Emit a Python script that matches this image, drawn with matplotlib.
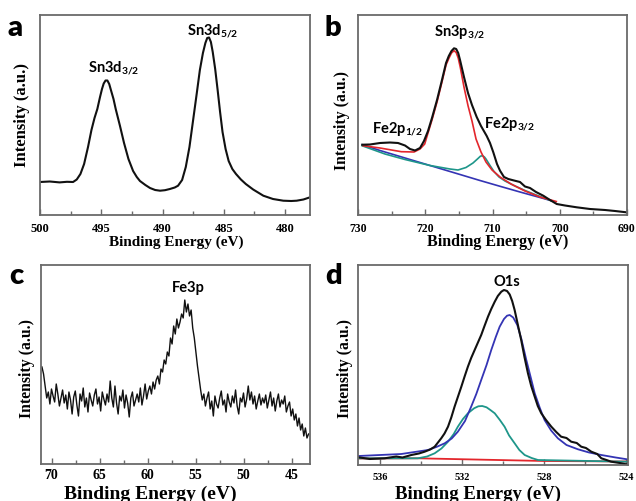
import numpy as np
import matplotlib
matplotlib.use('Agg')
import matplotlib.pyplot as plt
from matplotlib.ticker import MultipleLocator

W, H = 636, 502
plt.rcParams['font.family'] = ['Liberation Serif', 'DejaVu Serif']
plt.rcParams['font.weight'] = 'bold'
plt.rcParams['mathtext.fontset'] = 'custom'
plt.rcParams['mathtext.rm'] = 'Lato:bold'
plt.rcParams['mathtext.it'] = 'Lato:bold'
plt.rcParams['mathtext.bf'] = 'Lato:bold'

# ---------------- Panel a: Sn3d ----------------
a_energy = [500.0, 499.2, 498.4, 497.8, 497.3, 497.0, 496.7, 496.4, 496.08, 495.8,
            495.55, 495.32, 495.1, 494.94, 494.8, 494.65, 494.5, 494.35, 494.2, 494.0,
            493.82, 493.47, 493.14, 492.78, 492.4, 492.1, 491.84, 491.4, 491.02, 490.6,
            490.2, 489.8, 489.4, 489.0, 488.73, 488.4, 488.1, 487.8, 487.5, 487.2,
            486.95, 486.7, 486.5, 486.35, 486.2, 486.05, 485.9, 485.7, 485.5, 485.3,
            485.1, 484.85, 484.6, 484.3, 484.0, 483.6, 483.2, 482.6, 481.77, 480.98,
            480.14, 479.5, 479.05, 478.5, 477.96]
a_int = [33.0, 33.5, 32.6, 33.2, 33.0, 35.5, 41, 51, 68, 85,
         97, 106, 118, 126, 131.5, 134.5, 134.5, 131, 124.5, 116,
         106, 89, 72, 56, 44, 38, 34, 30, 27, 25,
         24.3, 24.8, 26, 27.5, 29.3, 35, 48, 68, 95, 122,
         145, 162, 172, 177, 177.5, 173, 163, 146, 125, 103,
         83, 66, 54, 46, 41, 35.5, 31, 25.5, 19.3, 16,
         14.3, 14.0, 14.3, 15.5, 17.7]

# ---------------- Panel b: Sn3p / Fe2p ----------------
b_energy = [729.36, 728.22, 726.73, 725.24, 724.05, 723.01, 722.27, 721.52, 720.78, 720.19,
            719.59, 719.00, 718.25, 717.55, 716.91, 716.5, 716.1, 715.72, 715.4, 715.1,
            714.83, 714.24, 713.64, 713.05, 712.35, 711.71, 710.86, 710.37, 709.88, 709.33,
            708.88, 708.29, 707.65, 706.80, 705.91, 705.17, 704.42, 703.53, 702.45, 701.45,
            700.45, 699.22, 697.48, 695.50, 693.27, 691.78, 690.10]
b_int = [70.3, 70.5, 72, 72.5, 72, 69.5, 66, 64.5, 67, 74,
         84, 97, 115, 134, 152, 159, 164, 166.7, 166, 162,
         155, 138, 122, 110, 98, 89, 79, 72, 62.7, 51,
         44.3, 38, 36, 34.5, 33, 28.5, 27, 23, 19.3, 15,
         11, 9.5, 7.7, 6, 5, 4, 2.7]

b_env_energy = [729.26, 726.73, 723.56, 721.67, 720.78, 720.08, 719.59, 719.00, 718.25, 717.55,
                716.91, 716.5, 716.1, 715.72, 715.4, 715.1, 714.8, 714.24, 713.64, 713.05,
                712.45, 711.71, 710.97, 710.07, 708.88, 707.25, 705.17, 702.94, 700.51]
b_env_int = [69.3, 67, 63.3, 63, 66, 71, 82, 95, 113, 132,
             150, 156.5, 162, 164.3, 162.5, 157, 148, 128, 109.3, 94,
             76, 63, 53, 45, 38, 31, 24, 18, 13.5]

b_bg_energy = [729.36, 726.73, 723.75, 720.78, 717.81, 714.83, 711.86, 708.88, 705.91, 702.94, 701.26]
b_bg_int = [70.3, 64.5, 58.5, 52.5, 46.5, 40.5, 34.5, 28.7, 23, 17.5, 14.3]

b_fe_energy = [729.41, 725.99, 723.01, 719.29, 716.32, 715.13, 713.94, 712.90, 712.16, 711.8,
               711.49, 711.2, 710.97, 710.37, 709.78, 709.03, 708.14, 706.65, 705.17, 703.38,
               701.30]
b_fe_int = [69.3, 61, 55.5, 49.5, 46, 45, 47.5, 52, 56.5, 58.8,
            59.3, 58, 56, 49.5, 43.5, 38, 34, 29, 24.5, 19.7,
            14.3]

# ---------------- Panel c: Fe3p (noisy) ----------------
c_int = [97, 90, 78, 66, 72, 60, 75, 68, 62, 80,
         70, 58, 66, 74, 61, 69, 55, 72, 64, 50,
         67, 73, 59, 48, 70, 63, 76, 57, 66, 52,
         71, 64, 58, 69, 75, 60, 67, 53, 72, 65,
         59, 70, 62, 83, 66, 57, 78, 61, 50, 68,
         63, 74, 56, 69, 61, 47, 66, 72, 58, 64,
         70, 62, 76, 59, 68, 80, 65, 73, 78, 70,
         82, 75, 84, 88, 80, 95, 92, 104, 100, 112,
         108, 126, 120, 138, 130, 145, 136, 142, 150, 146,
         164, 152, 160, 148, 154, 136, 126, 112, 98, 86,
         74, 64, 70, 58, 66, 72, 55, 63, 48, 68,
         60, 56, 66, 73, 59, 64, 52, 70, 62, 57,
         68, 61, 74, 58, 50, 66, 62, 71, 57, 65,
         78, 64, 72, 60, 68, 55, 63, 70, 59, 66,
         61, 69, 56, 64, 72, 58, 66, 53, 63, 70,
         57, 64, 60, 68, 52, 58, 62, 48, 55, 44,
         50, 38, 46, 34, 40, 28, 36, 26, 30]
c_energy = np.linspace(71.0, 43.25, len(c_int))

# ---------------- Panel d: O1s ----------------
d_energy = [537.04, 536.5, 535.77, 535.2, 534.9, 534.47, 534.1, 533.82, 533.55, 533.33,
            533.01, 532.85, 532.68, 532.52, 532.36, 532.2, 532.03, 531.87, 531.71, 531.55,
            531.38, 531.22, 531.06, 530.9, 530.73, 530.57, 530.40, 530.25, 530.08, 529.95,
            529.8, 529.67, 529.55, 529.43, 529.27, 529.11, 528.95, 528.78, 528.62, 528.45,
            528.3, 528.13, 527.9, 527.64, 527.4, 527.16, 526.9, 526.67, 526.4, 526.18,
            525.95, 525.69, 525.4, 525.20, 524.95, 524.72, 524.3, 523.94]
d_int = [7.7, 6.0, 6.7, 8.5, 7.5, 10, 11.5, 13.3, 15.5, 18.3,
         26.7, 31.5, 38.3, 47.5, 58.3, 68, 78.3, 88.5, 98.3, 107,
         115, 122.5, 130, 139, 148.3, 156, 163.3, 169, 173.3, 175,
         174, 170.5, 164, 155, 140, 125, 108, 91.7, 79, 68.3,
         59, 51.7, 45, 38.3, 33, 28.3, 27, 23.3, 22, 18.3,
         17, 13.3, 11, 6.7, 5, 3.3, 2, 0.5]

d_main_energy = [537.04, 534.96, 533.66, 533.25, 532.84, 532.5, 532.20, 531.85, 531.55, 531.3,
                 531.06, 530.8, 530.57, 530.35, 530.16, 529.95, 529.8, 529.67, 529.5, 529.3,
                 529.1, 528.86, 528.65, 528.45, 528.2, 527.97, 527.65, 527.32, 526.9, 526.34,
                 525.8, 525.20, 524.5, 523.94]
d_main_int = [9, 11, 15, 18, 21.7, 26.5, 33.3, 44, 58.3, 71,
              85, 100, 115, 128, 138.3, 146, 149.3, 150, 147.5, 140,
              126, 105, 88, 71.7, 57, 45, 34.5, 26.7, 20, 15.7,
              12.5, 10, 7.5, 5.7]

d_sec_energy = [537.04, 534.15, 533.7, 533.33, 533.0, 532.68, 532.4, 532.20, 531.95, 531.71,
                531.4, 531.2, 531.01, 530.8, 530.6, 530.40, 530.15, 529.92, 529.7, 529.43,
                529.2, 528.94, 528.6, 528.29, 523.94]
d_sec_int = [6.7, 6.7, 8.5, 11.7, 16.5, 23.3, 31, 38.3, 46, 51.7,
             56.8, 58.7, 59, 57.7, 54.8, 51.7, 45, 38.3, 29.5, 21.7,
             15, 10, 7, 5, 3.3]

d_bg_energy = [537.04, 534.15, 527.97, 523.94]
d_bg_int = [6.5, 6.7, 4.0, 3.5]

# ---------------- labels ----------------
xlabel = 'Binding Energy (eV)'
ylabel = 'Intensity (a.u.)'

BLACK = '#111111'
RED = '#e3262c'
TEAL = '#1e968a'
BLUE = '#3434b4'
FRAME = '#6a6a6a'

fig = plt.figure(figsize=(W / 100, H / 100), dpi=100)


def add_ax(l, t, r, b):
    return fig.add_axes([l / W, 1 - b / H, (r - l) / W, (b - t) / H])


def style(ax, xlim, ylim, major, minor, tsize, pad=5):
    ax.set_xlim(*xlim)
    ax.set_ylim(*ylim)
    ax.xaxis.set_major_locator(MultipleLocator(major))
    ax.xaxis.set_minor_locator(MultipleLocator(minor))
    ax.set_yticks([])
    ax.tick_params(axis='x', which='major', direction='in', length=4, width=1,
                   color=FRAME, labelsize=tsize, pad=pad)
    ax.tick_params(axis='x', which='minor', direction='in', length=3, width=1, color=FRAME)
    for sp in ax.spines.values():
        sp.set_color(FRAME)
        sp.set_linewidth(1.3)


def ftext(x, y, s, **kw):
    return fig.text(x / W, 1 - y / H, s, **kw)


SANS = ['Lato', 'DejaVu Sans']

# Panel a
axa = add_ax(40, 16, 310, 216)
axa.plot(a_energy, a_int, color=BLACK, lw=1.5)
style(axa, (500, 477.96), (0, 200), 5, 2.5, 9)

# Panel b
axb = add_ax(358, 16, 627, 216)
axb.plot(b_bg_energy, b_bg_int, color=BLUE, lw=1.2)
axb.plot(b_fe_energy, b_fe_int, color=TEAL, lw=1.2)
axb.plot(b_env_energy, b_env_int, color=RED, lw=1.2)
axb.plot(b_energy, b_int, color=BLACK, lw=1.5)
style(axb, (730, 690), (0, 200), 10, 5, 8.5)

# Panel c
axc = add_ax(41, 266, 310, 465)
axc.plot(c_energy, c_int, color=BLACK, lw=1.0)
style(axc, (71.1, 43.1), (0, 199), 5, 2.5, 10, pad=3)

# Panel d
axd = add_ax(358, 266, 628, 466)
axd.plot(d_bg_energy, d_bg_int, color=RED, lw=1.3)
axd.plot(d_sec_energy, d_sec_int, color=TEAL, lw=1.3)
axd.plot(d_main_energy, d_main_int, color=BLUE, lw=1.3)
axd.plot(d_energy, d_int, color=BLACK, lw=1.5)
style(axd, (537.07, 523.9), (0, 200), 4, 2, 7.5)

# axis labels
ftext(176, 242, xlabel, ha='center', va='center', fontsize=11)
ftext(498, 242, xlabel, ha='center', va='center', fontsize=11.5)
ftext(150, 494, xlabel, ha='center', va='center', fontsize=14)
ftext(478, 494, xlabel, ha='center', va='center', fontsize=13.5)
ftext(22, 115, ylabel, ha='center', va='center', rotation=90, fontsize=12)
ftext(342, 121, ylabel, ha='center', va='center', rotation=90, fontsize=11.3)
ftext(27, 369, ylabel, ha='center', va='center', rotation=90, fontsize=11.3)
ftext(345, 369, ylabel, ha='center', va='center', rotation=90, fontsize=11.3)

# panel letters
for x, y, s in [(8, 36, 'a'), (324, 36, 'b'), (9, 284, 'c'), (325, 284, 'd')]:
    ftext(x, y, s, ha='left', va='baseline', fontsize=21, family=SANS, fontweight='heavy')

# peak labels
pk = dict(ha='left', va='baseline', fontsize=10.5, family=SANS, fontweight='bold')
ftext(88, 72, r'Sn3d$_{\mathrm{3/2}}$', **pk)
ftext(187, 35, r'Sn3d$_{\mathrm{5/2}}$', **pk)
ftext(434, 36, r'Sn3p$_{\mathrm{3/2}}$', **pk)
ftext(372, 133, r'Fe2p$_{\mathrm{1/2}}$', **pk)
ftext(484, 128, r'Fe2p$_{\mathrm{3/2}}$', **pk)
ftext(172, 292, 'Fe3p', **pk)
ftext(493, 286, 'O1s', **pk)

fig.savefig('out.png', dpi=100)
